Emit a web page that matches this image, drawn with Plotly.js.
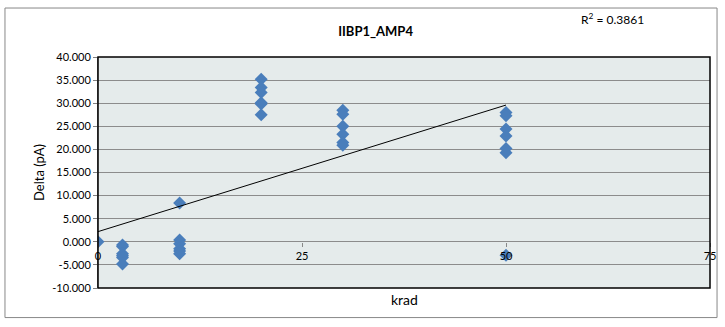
<!DOCTYPE html>
<html>
<head>
<meta charset="utf-8">
<script src="https://cdn.plot.ly/plotly-3.0.1.min.js"></script>
<style>html,body{margin:0;padding:0;background:#fff;}#chart{width:725px;height:327px;}</style>
</head>
<body>
<div id="chart"></div>
<script>
// Data
var kradX = [0,
  3,3,3,3,3,3,
  10,10,10,10,10,10,
  20,20,20,20,20,20,
  30,30,30,30,30,30,
  50,50,50,50,50,50,50];
var deltaY = [0,
  -0.7,-1.0,-2.6,-3.0,-3.4,-4.8,
  8.4,0.4,-0.4,-1.5,-2.0,-2.6,
  35.2,33.4,32.3,30.1,29.8,27.5,
  28.5,27.6,25.0,23.3,21.5,20.9,
  28.0,27.3,24.4,22.9,20.2,19.3,-2.9];
var trendX = [0, 50];
var trendY = [2.2, 29.6];
var xTickVals = [0, 25, 50, 75];
var xTickText = ['0', '25', '50', '75'];
var yTickVals = [-10, -5, 0, 5, 10, 15, 20, 25, 30, 35, 40];
var yTickText = ['-10.000', '-5.000', '0.000', '5.000', '10.000', '15.000', '20.000', '25.000', '30.000', '35.000', '40.000'];
var chartTitle = 'IIBP1_AMP4';
var xTitle = 'krad';
var yTitle = 'Delta (pA)';
var r2Text = 'R<sup>2</sup> = 0.3861';

var font = 'Lato, "Open Sans", sans-serif';

var traces = [
  {
    x: kradX, y: deltaY, type: 'scatter', mode: 'markers',
    marker: {symbol: 'diamond', size: 10, color: '#4a7ebb', line: {width: 0}},
    showlegend: false, hoverinfo: 'skip'
  },
  {
    x: trendX, y: trendY, type: 'scatter', mode: 'lines',
    line: {color: '#000000', width: 1},
    showlegend: false, hoverinfo: 'skip'
  }
];

var layout = {
  width: 725, height: 327,
  margin: {l: 98, r: 15, t: 57, b: 39},
  paper_bgcolor: '#ffffff',
  plot_bgcolor: '#e5ebeb',
  font: {family: font, size: 11, color: '#000000'},
  title: {text: '<b>' + chartTitle + '</b>', x: 0.518, xanchor: 'center', y: 0.905, yanchor: 'middle',
          font: {family: font, size: 13, color: '#000000'}},
  xaxis: {
    range: [0, 75], tickvals: xTickVals, ticktext: xTickText,
    anchor: 'free', position: 0.2,
    showgrid: false, zeroline: false,
    showline: false, ticks: 'outside', ticklen: 4, tickcolor: '#888888',
    tickfont: {family: font, size: 11, color: '#000000'}
  },
  yaxis: {
    range: [-10, 40], tickvals: yTickVals, ticktext: yTickText,
    showgrid: true, gridcolor: '#8c8c8c', gridwidth: 1,
    zeroline: false, showline: true, linecolor: '#808080', linewidth: 1,
    ticks: 'outside', ticklen: 4, tickcolor: '#808080',
    tickfont: {family: font, size: 11, color: '#000000'},
    title: {text: yTitle, font: {family: font, size: 13, color: '#000000'}, standoff: 4}
  },
  shapes: [
    {type: 'rect', xref: 'paper', yref: 'paper', x0: 0, x1: 1, y0: 0, y1: 1,
     line: {color: '#000000', width: 1.5}, fillcolor: 'rgba(0,0,0,0)', layer: 'above'},
    {type: 'rect', xref: 'paper', yref: 'paper', x0: -0.152, x1: 1.0115, y0: -0.128, y1: 1.212,
     line: {color: '#888888', width: 1}, fillcolor: 'rgba(0,0,0,0)', layer: 'below'}
  ],
  annotations: [
    {text: xTitle, xref: 'paper', yref: 'paper', x: 0.5, y: -0.048, xanchor: 'center', yanchor: 'middle',
     showarrow: false, font: {family: font, size: 14, color: '#000000'}},
    {text: r2Text, xref: 'paper', yref: 'paper', x: 0.84, y: 1.165, xanchor: 'center', yanchor: 'middle',
     showarrow: false, font: {family: font, size: 12, color: '#000000'}}
  ]
};

Plotly.newPlot('chart', traces, layout, {staticPlot: true, displayModeBar: false});
</script>
</body>
</html>
